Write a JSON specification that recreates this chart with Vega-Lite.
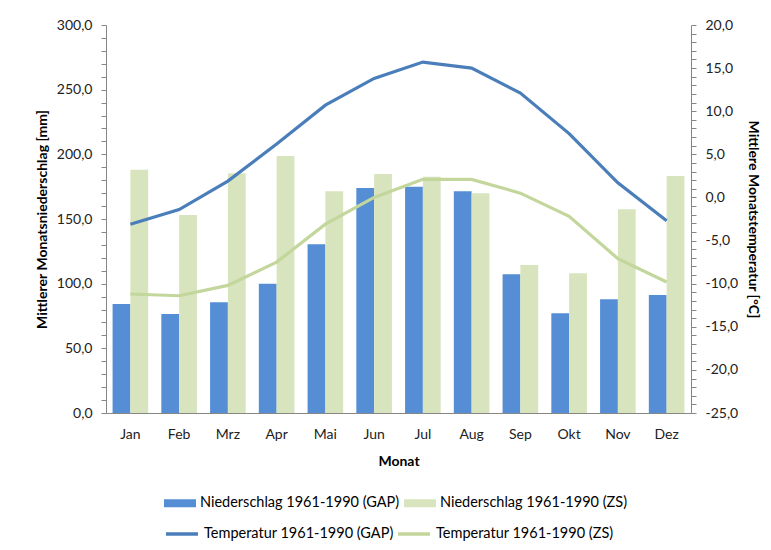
{
  "$schema": "https://vega.github.io/schema/vega-lite/v6.json",
  "width": 585,
  "height": 388,
  "padding": {"left": 35, "top": 18, "right": 10, "bottom": 0},
  "background": "white",
  "config": {
    "view": {"stroke": null},
    "font": "Lato",
    "axis": {"labelFont": "Lato", "titleFont": "Lato", "labelColor": "#222", "titleColor": "#000", "domainColor": "#868686", "tickColor": "#868686", "labelFontSize": 14, "titleFontSize": 14, "titleFontWeight": "bold", "grid": false},
    "legend": {"labelFont": "Lato", "labelFontSize": 14.5, "labelColor": "#000"}
  },
  "data": {
    "values": [
      {"Monat": "Jan", "Serie": "Niederschlag 1961-1990 (GAP)", "Typ": "N", "Wert": 84.3},
      {"Monat": "Feb", "Serie": "Niederschlag 1961-1990 (GAP)", "Typ": "N", "Wert": 76.6},
      {"Monat": "Mrz", "Serie": "Niederschlag 1961-1990 (GAP)", "Typ": "N", "Wert": 85.6},
      {"Monat": "Apr", "Serie": "Niederschlag 1961-1990 (GAP)", "Typ": "N", "Wert": 100.0},
      {"Monat": "Mai", "Serie": "Niederschlag 1961-1990 (GAP)", "Typ": "N", "Wert": 130.5},
      {"Monat": "Jun", "Serie": "Niederschlag 1961-1990 (GAP)", "Typ": "N", "Wert": 174.0},
      {"Monat": "Jul", "Serie": "Niederschlag 1961-1990 (GAP)", "Typ": "N", "Wert": 175.0},
      {"Monat": "Aug", "Serie": "Niederschlag 1961-1990 (GAP)", "Typ": "N", "Wert": 171.4},
      {"Monat": "Sep", "Serie": "Niederschlag 1961-1990 (GAP)", "Typ": "N", "Wert": 107.2},
      {"Monat": "Okt", "Serie": "Niederschlag 1961-1990 (GAP)", "Typ": "N", "Wert": 77.1},
      {"Monat": "Nov", "Serie": "Niederschlag 1961-1990 (GAP)", "Typ": "N", "Wert": 87.9},
      {"Monat": "Dez", "Serie": "Niederschlag 1961-1990 (GAP)", "Typ": "N", "Wert": 91.3},
      {"Monat": "Jan", "Serie": "Niederschlag 1961-1990 (ZS)", "Typ": "N", "Wert": 188.0},
      {"Monat": "Feb", "Serie": "Niederschlag 1961-1990 (ZS)", "Typ": "N", "Wert": 153.1},
      {"Monat": "Mrz", "Serie": "Niederschlag 1961-1990 (ZS)", "Typ": "N", "Wert": 185.4},
      {"Monat": "Apr", "Serie": "Niederschlag 1961-1990 (ZS)", "Typ": "N", "Wert": 198.8},
      {"Monat": "Mai", "Serie": "Niederschlag 1961-1990 (ZS)", "Typ": "N", "Wert": 171.4},
      {"Monat": "Jun", "Serie": "Niederschlag 1961-1990 (ZS)", "Typ": "N", "Wert": 184.8},
      {"Monat": "Jul", "Serie": "Niederschlag 1961-1990 (ZS)", "Typ": "N", "Wert": 182.7},
      {"Monat": "Aug", "Serie": "Niederschlag 1961-1990 (ZS)", "Typ": "N", "Wert": 169.9},
      {"Monat": "Sep", "Serie": "Niederschlag 1961-1990 (ZS)", "Typ": "N", "Wert": 114.5},
      {"Monat": "Okt", "Serie": "Niederschlag 1961-1990 (ZS)", "Typ": "N", "Wert": 108.0},
      {"Monat": "Nov", "Serie": "Niederschlag 1961-1990 (ZS)", "Typ": "N", "Wert": 157.5},
      {"Monat": "Dez", "Serie": "Niederschlag 1961-1990 (ZS)", "Typ": "N", "Wert": 183.3},
      {"Monat": "Jan", "Serie": "Temperatur 1961-1990 (GAP)", "Typ": "T", "Wert": -3.1},
      {"Monat": "Feb", "Serie": "Temperatur 1961-1990 (GAP)", "Typ": "T", "Wert": -1.4},
      {"Monat": "Mrz", "Serie": "Temperatur 1961-1990 (GAP)", "Typ": "T", "Wert": 1.9},
      {"Monat": "Apr", "Serie": "Temperatur 1961-1990 (GAP)", "Typ": "T", "Wert": 6.2},
      {"Monat": "Mai", "Serie": "Temperatur 1961-1990 (GAP)", "Typ": "T", "Wert": 10.7},
      {"Monat": "Jun", "Serie": "Temperatur 1961-1990 (GAP)", "Typ": "T", "Wert": 13.8},
      {"Monat": "Jul", "Serie": "Temperatur 1961-1990 (GAP)", "Typ": "T", "Wert": 15.7},
      {"Monat": "Aug", "Serie": "Temperatur 1961-1990 (GAP)", "Typ": "T", "Wert": 15.0},
      {"Monat": "Sep", "Serie": "Temperatur 1961-1990 (GAP)", "Typ": "T", "Wert": 12.1},
      {"Monat": "Okt", "Serie": "Temperatur 1961-1990 (GAP)", "Typ": "T", "Wert": 7.4},
      {"Monat": "Nov", "Serie": "Temperatur 1961-1990 (GAP)", "Typ": "T", "Wert": 1.7},
      {"Monat": "Dez", "Serie": "Temperatur 1961-1990 (GAP)", "Typ": "T", "Wert": -2.7},
      {"Monat": "Jan", "Serie": "Temperatur 1961-1990 (ZS)", "Typ": "T", "Wert": -11.2},
      {"Monat": "Feb", "Serie": "Temperatur 1961-1990 (ZS)", "Typ": "T", "Wert": -11.4},
      {"Monat": "Mrz", "Serie": "Temperatur 1961-1990 (ZS)", "Typ": "T", "Wert": -10.2},
      {"Monat": "Apr", "Serie": "Temperatur 1961-1990 (ZS)", "Typ": "T", "Wert": -7.5},
      {"Monat": "Mai", "Serie": "Temperatur 1961-1990 (ZS)", "Typ": "T", "Wert": -3.1},
      {"Monat": "Jun", "Serie": "Temperatur 1961-1990 (ZS)", "Typ": "T", "Wert": 0.0},
      {"Monat": "Jul", "Serie": "Temperatur 1961-1990 (ZS)", "Typ": "T", "Wert": 2.1},
      {"Monat": "Aug", "Serie": "Temperatur 1961-1990 (ZS)", "Typ": "T", "Wert": 2.1},
      {"Monat": "Sep", "Serie": "Temperatur 1961-1990 (ZS)", "Typ": "T", "Wert": 0.5},
      {"Monat": "Okt", "Serie": "Temperatur 1961-1990 (ZS)", "Typ": "T", "Wert": -2.2},
      {"Monat": "Nov", "Serie": "Temperatur 1961-1990 (ZS)", "Typ": "T", "Wert": -7.1},
      {"Monat": "Dez", "Serie": "Temperatur 1961-1990 (ZS)", "Typ": "T", "Wert": -9.8}
    ]
  },
  "encoding": {
    "x": {
      "field": "Monat", "type": "nominal",
      "scale": {"domain": ["Jan","Feb","Mrz","Apr","Mai","Jun","Jul","Aug","Sep","Okt","Nov","Dez"], "paddingInner": 0.27, "paddingOuter": 0.135},
      "axis": {"title": "Monat", "labelAngle": 0, "ticks": false, "labelPadding": 14, "titlePadding": 13}
    }
  },
  "layer": [
    {
      "transform": [{"filter": "datum.Typ == 'N'"}],
      "mark": {"type": "bar", "opacity": 1},
      "encoding": {
        "xOffset": {"field": "Serie", "type": "nominal", "scale": {"paddingInner": 0, "paddingOuter": 0}},
        "fill": {
          "field": "Serie", "type": "nominal",
          "scale": {"domain": ["Niederschlag 1961-1990 (GAP)", "Niederschlag 1961-1990 (ZS)"], "range": ["#558ED5", "#D7E4BD"]},
          "legend": {
            "title": null, "orient": "none", "legendX": 58, "legendY": 462,
            "direction": "horizontal", "columns": 2, "columnPadding": 4,
            "symbolType": "M-1,-0.25H1V0.25H-1Z", "symbolSize": 1024, "symbolStrokeWidth": 0,
            "labelOffset": 4, "labelLimit": 300
          }
        },
        "y": {
          "field": "Wert", "type": "quantitative",
          "scale": {"domain": [0, 300], "nice": false},
          "axis": {
            "title": "Mittlerer Monatsniederschlag [mm]",
            "values": [0,10,20,30,40,50,60,70,80,90,100,110,120,130,140,150,160,170,180,190,200,210,220,230,240,250,260,270,280,290,300],
            "labelExpr": "datum.value % 50 == 0 ? replace(format(datum.value, '.1f'), '.', ',') : ''",
            "labelOverlap": false,
            "tickSize": 5,
            "labelPadding": 9,
            "titlePadding": 7
          }
        }
      }
    },
    {
      "transform": [{"filter": "datum.Typ == 'T'"}],
      "mark": {"type": "line", "strokeWidth": 3.2, "opacity": 1},
      "encoding": {
        "stroke": {
          "field": "Serie", "type": "nominal",
          "scale": {"domain": ["Temperatur 1961-1990 (GAP)", "Temperatur 1961-1990 (ZS)"], "range": ["#4A7EBB", "#C3D69B"]},
          "legend": {
            "title": null, "orient": "none", "legendX": 58, "legendY": 491,
            "direction": "horizontal", "columns": 2, "columnPadding": -3,
            "symbolType": "stroke", "symbolSize": 1024, "symbolStrokeWidth": 3.5,
            "labelOffset": 4, "labelLimit": 300
          }
        },
        "y": {
          "field": "Wert", "type": "quantitative",
          "scale": {"domain": [-25, 20], "nice": false, "zero": false},
          "axis": {
            "orient": "right",
            "title": "Mittlere Monatstemperatur [°C]",
            "values": [-25,-24,-23,-22,-21,-20,-19,-18,-17,-16,-15,-14,-13,-12,-11,-10,-9,-8,-7,-6,-5,-4,-3,-2,-1,0,1,2,3,4,5,6,7,8,9,10,11,12,13,14,15,16,17,18,19,20],
            "labelExpr": "datum.value % 5 == 0 ? replace(replace(format(datum.value, '.1f'), '.', ','), '−', '-') : ''",
            "labelOverlap": false,
            "tickSize": 5,
            "labelPadding": 9,
            "titlePadding": 8
          }
        }
      }
    }
  ],
  "resolve": {"scale": {"y": "independent"}}
}
